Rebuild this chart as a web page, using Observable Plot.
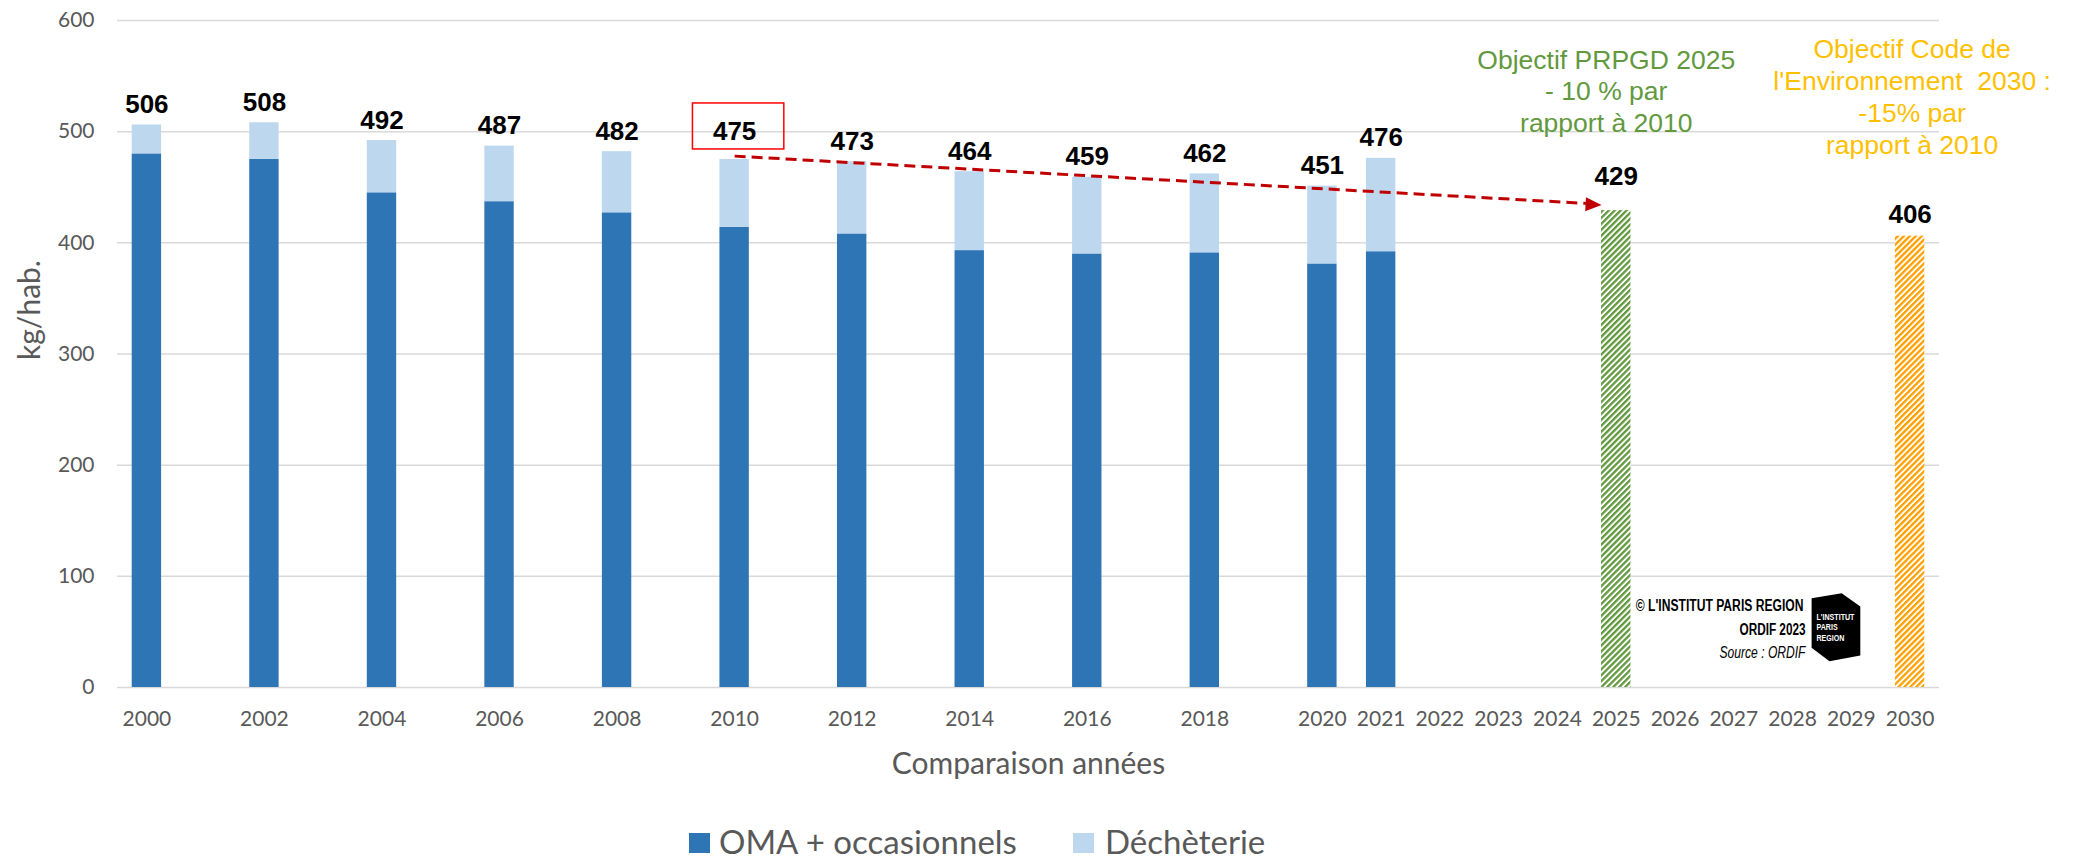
<!DOCTYPE html>
<html>
<head>
<meta charset="utf-8">
<script src="https://cdn.jsdelivr.net/npm/d3@7"></script>
<script src="https://cdn.jsdelivr.net/npm/@observablehq/plot@0.6"></script>
<style>
  body { margin: 0; background: #ffffff; }
  #chart svg text { white-space: pre; }
  #legend { position: relative; width: 2080px; height: 58px; font-family: Lato, sans-serif; font-size: 33px; line-height: 1; color: #595959; }
  #legend .sw { position: absolute; top: 33px; width: 21px; height: 20px; }
  #legend .lt { position: absolute; top: 25px; white-space: nowrap; }
</style>
</head>
<body>
<div id="chart"></div>
<div id="legend"></div>
<script>
// ---- data ----
const allYears = d3.range(2000, 2031).map(String);
const dataYears = ["2000","2002","2004","2006","2008","2010","2012","2014","2016","2018","2020","2021"];
const omaValues = [480, 475, 445, 437, 427, 414, 408, 393, 390, 391, 381, 392];
const dechValues = [26, 33, 47, 50, 55, 61, 65, 71, 69, 71, 70, 84];
const totalLabels = [506, 508, 492, 487, 482, 475, 473, 464, 459, 462, 451, 476];
const seriesNames = ["OMA + occasionnels", "Déchèterie"];
const seriesColors = ["#2E75B6", "#BDD7EE"];
const targetYears = ["2025", "2030"];
const targetValues = [429, 406];
const targetTexts = [
  "Objectif PRPGD 2025\n- 10 % par\nrapport à 2010",
  "Objectif Code de\nl'Environnement  2030 :\n-15% par\nrapport à 2010"
];
const tickYears = ["2000","2002","2004","2006","2008","2010","2012","2014","2016","2018","2020",
  "2021","2022","2023","2024","2025","2026","2027","2028","2029","2030"];
const yTicks = [0, 100, 200, 300, 400, 500, 600];
const highlightYear = "2010";
const trendFrom = ["2010", 478];
const trendTo = ["2025", 434];
const xTitle = "Comparaison années";
const yTitle = "kg/hab.";
const creditLines = ["© L'INSTITUT PARIS REGION", "ORDIF 2023", "Source : ORDIF"];
const logoText = "L'INSTITUT\nPARIS\nREGION";

// ---- tables built from the arrays ----
const stacked = seriesNames.flatMap((s, i) =>
  dataYears.map((y, j) => ({year: y, series: s, value: (i === 0 ? omaValues : dechValues)[j]})));
const labels = dataYears.map((y, j) => ({year: y, total: totalLabels[j]}));
const targets = targetYears.map((y, j) => ({year: y, value: targetValues[j], text: targetTexts[j]}));
const trend = [{from: trendFrom[0], fromValue: trendFrom[1], to: trendTo[0], toValue: trendTo[1]}];

const green = "#62993E";
const gold = "#FFC000";
const orange = "#FFA000";
const red = "#C00000";
const labelFont = "'Liberation Sans', Arial, sans-serif";

const arrowHead = { draw(ctx) { ctx.moveTo(0, 0); ctx.lineTo(-16, -7); ctx.lineTo(-16, 7); ctx.closePath(); } };
const hexLogo = { draw(ctx) {
  ctx.moveTo(-24.4, -29); ctx.lineTo(5.7, -34); ctx.lineTo(24.3, -20.7);
  ctx.lineTo(24.3, 28.3); ctx.lineTo(-6.5, 34); ctx.lineTo(-24.4, 20.6); ctx.closePath(); } };

const plot = Plot.plot({
  width: 2080,
  height: 800,
  marginLeft: 117,
  marginRight: 141,
  marginTop: 20,
  marginBottom: 113,
  style: {fontFamily: "Lato, sans-serif", fontSize: "21px", color: "#595959", background: "white", overflow: "visible"},
  x: {type: "band", domain: allYears, paddingInner: 0.5, paddingOuter: 0.25, align: 0.5, round: false},
  y: {domain: [0, 600]},
  color: {domain: seriesNames, range: seriesColors},
  marks: [
    Plot.gridY(yTicks, {stroke: "#D9D9D9", strokeOpacity: 1, strokeWidth: 1.5}),
    Plot.axisY(yTicks, {tickSize: 0, tickPadding: 23, label: null, fill: "#595959"}),
    Plot.axisX(tickYears, {tickSize: 0, tickPadding: 24, label: null, fill: "#595959"}),
    Plot.barY(stacked, {x: "year", y: "value", fill: "series", order: seriesNames}),
    Plot.barY(targets.filter(d => d.year === "2025"), {x: "year", y: "value", fill: "url(#hatchGreen)"}),
    Plot.barY(targets.filter(d => d.year === "2030"), {x: "year", y: "value", fill: "url(#hatchOrange)"}),
    Plot.text(labels.filter(d => d.year !== highlightYear), {x: "year", y: "total", text: d => String(d.total),
      lineAnchor: "bottom", dy: -12, fontWeight: "bold", fontSize: 26, fontFamily: labelFont, fill: "black"}),
    Plot.text(labels.filter(d => d.year === highlightYear), {x: "year", y: "total", text: d => String(d.total),
      lineAnchor: "bottom", dy: -19, fontWeight: "bold", fontSize: 26, fontFamily: labelFont, fill: "black"}),
    Plot.barY(labels.filter(d => d.year === highlightYear), {x: "year", y1: "total", y2: "total",
      fill: "none", stroke: "#FF0000", strokeWidth: 1.5,
      insetTop: -56, insetBottom: 10, insetLeft: -27, insetRight: -35}),
    Plot.text(targets.filter(d => d.year === "2025"), {x: "year", y: "value", text: d => String(d.value),
      lineAnchor: "bottom", dy: -26, fontWeight: "bold", fontSize: 26, fontFamily: labelFont, fill: "black"}),
    Plot.text(targets.filter(d => d.year === "2030"), {x: "year", y: "value", text: d => String(d.value),
      lineAnchor: "bottom", dy: -13, fontWeight: "bold", fontSize: 26, fontFamily: labelFont, fill: "black"}),
    Plot.text(targets.filter(d => d.year === "2025"), {x: "year", frameAnchor: "top", text: "text",
      lineAnchor: "top", lineHeight: 1.19, dx: -10, dy: 26, fontSize: 26.5, fontFamily: labelFont, fill: green}),
    Plot.text(targets.filter(d => d.year === "2030"), {x: "year", frameAnchor: "top", text: "text",
      lineAnchor: "top", lineHeight: 1.21, dx: 2, dy: 15, fontSize: 26.5, fontFamily: labelFont, fill: gold}),
    Plot.arrow(trend, {x1: "from", y1: "fromValue", x2: "to", y2: "toValue", stroke: red, strokeWidth: 3,
      strokeDasharray: "11,6", strokeLinecap: "butt", headLength: 0, insetEnd: 30}),
    Plot.dot(trend, {x: "to", y: "toValue", symbol: arrowHead, r: 8, fill: red, stroke: "none", rotate: 3.2, dx: -14.7}),
    Plot.text([xTitle], {text: d => d, frameAnchor: "bottom", dy: 77, lineAnchor: "middle", fontSize: 30, fill: "#595959"}),
    Plot.text([yTitle], {text: d => d, frameAnchor: "left", rotate: -90, dx: -87, dy: 6, lineAnchor: "middle", fontSize: 30, fill: "#595959"}),
    Plot.text([creditLines[0]], {text: d => d, frameAnchor: "bottom-right", textAnchor: "end", lineAnchor: "bottom",
      dx: -136, dy: -77, fontWeight: "bold", fontSize: 17, fontFamily: labelFont, fill: "black"}),
    Plot.text([creditLines[1]], {text: d => d, frameAnchor: "bottom-right", textAnchor: "end", lineAnchor: "bottom",
      dx: -134, dy: -53, fontWeight: "bold", fontSize: 16, fontFamily: labelFont, fill: "black"}),
    Plot.text([creditLines[2]], {text: d => d, frameAnchor: "bottom-right", textAnchor: "end", lineAnchor: "bottom",
      dx: -134, dy: -30, fontStyle: "italic", fontSize: 16, fontFamily: labelFont, fill: "black"}),
    Plot.dot([0], {frameAnchor: "bottom-right", dx: -103.5, dy: -60.3, symbol: hexLogo, r: 10, fill: "black", stroke: "none"}),
    Plot.text([logoText], {text: d => d, frameAnchor: "bottom-right", textAnchor: "start", lineAnchor: "bottom",
      lineHeight: 1.2, dx: -123, dy: -46.3, fontWeight: "bold", fontSize: 9, fontFamily: labelFont, fill: "white"})
  ]
});

d3.select(plot).insert("defs", ":first-child").html(`
  <pattern id="hatchGreen" patternUnits="userSpaceOnUse" width="4.2" height="4.2" patternTransform="rotate(45)">
    <rect width="4.2" height="4.2" fill="white"/><rect width="2.3" height="4.2" fill="${green}"/>
  </pattern>
  <pattern id="hatchOrange" patternUnits="userSpaceOnUse" width="4.2" height="4.2" patternTransform="rotate(45)">
    <rect width="4.2" height="4.2" fill="white"/><rect width="2.3" height="4.2" fill="${orange}"/>
  </pattern>`);

document.getElementById("chart").appendChild(plot);

// condensed look for the credit block and logo: horizontal scale about each text's own anchor
const fitWidths = {"© L'INSTITUT PARIS REGION": 168, "ORDIF 2023": 66, "Source : ORDIF": 86, "L'INSTITUT": 38};
d3.select(plot).selectAll("text").each(function() {
  const tspans = this.querySelectorAll("tspan");
  const node = tspans.length ? tspans[0] : this;
  const key = node.textContent;
  if (fitWidths[key] === undefined) return;
  const w = node.getComputedTextLength();
  if (!(w > 0)) return;
  const s = Math.min(1, fitWidths[key] / w);
  const tr = this.getAttribute("transform");
  if (tr) {
    this.setAttribute("transform", tr + ` scale(${s},1)`);
  } else {
    const x = +this.getAttribute("x") || 0;
    this.setAttribute("transform", `translate(${x},0) scale(${s},1) translate(${-x},0)`);
  }
});

// legend below the chart
const legend = d3.select("#legend");
const legendPos = [{sw: 689, tx: 719}, {sw: 1073, tx: 1105}];
seriesNames.forEach((s, i) => {
  legend.append("div").attr("class", "sw").style("left", legendPos[i].sw + "px").style("background", seriesColors[i]);
  legend.append("div").attr("class", "lt").style("left", legendPos[i].tx + "px").text(s);
});
</script>
</body>
</html>
